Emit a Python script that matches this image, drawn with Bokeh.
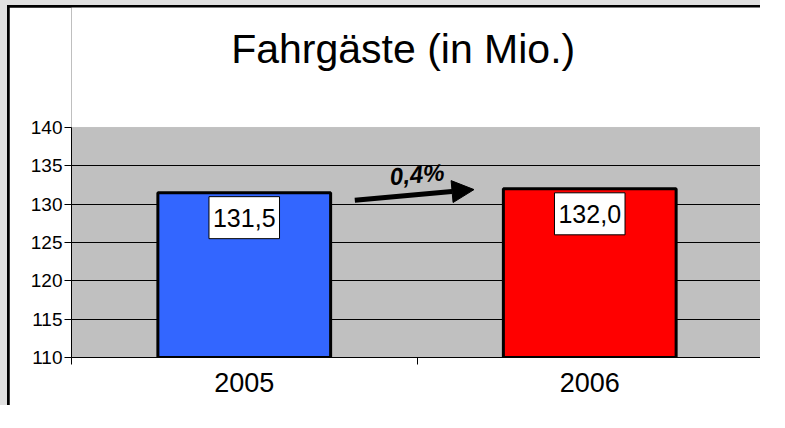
from bokeh.plotting import figure
from bokeh.models import Range1d, FixedTicker, Label, Arrow, NormalHead, BoxAnnotation
from bokeh.embed import file_html
from bokeh.resources import INLINE

# ---- data ----
years = ["2005", "2006"]
passengers = [131.5, 132.0]
bar_colors = ["#3366ff", "#ff0000"]
value_labels = ["131,5", "132,0"]
y_ticks = [110, 115, 120, 125, 130, 135, 140]
title_text = "Fahrgäste (in Mio.)"

FONT = "Liberation Sans"

xs = [i + 0.5 for i in range(len(years))]
change = (passengers[1] / passengers[0] - 1) * 100
change_text = f"{change:.1f}".replace(".", ",") + "%"

y_lo, y_hi = y_ticks[0], y_ticks[-1]
# frame extends above the value axis to leave room for the title
y_top = y_hi + 15.65

p = figure(width=760, height=405, output_backend="svg", toolbar_location=None,
           x_range=Range1d(0, len(years)), y_range=Range1d(y_lo, y_top),
           min_border_left=62, min_border_right=7, min_border_top=0, min_border_bottom=55,
           title=None,
           styles={"border-left": "7px solid #e0e0e0", "border-top": "5px solid #e0e0e0",
                   "padding-left": "2px", "padding-top": "2px",
                   "background-color": "black"})
p.background_fill_color = "white"
p.border_fill_color = "white"
p.outline_line_color = None

# plot area (grey)
p.add_layout(BoxAnnotation(left=0, right=len(years), bottom=y_lo, top=y_hi,
                           fill_color="#c0c0c0", fill_alpha=1.0,
                           line_color="#808080", line_width=1, level="image"))

# grid
p.xgrid.visible = False
p.ygrid.ticker = FixedTicker(ticks=y_ticks[1:-1])
p.ygrid.grid_line_color = "black"
p.ygrid.grid_line_width = 1
p.ygrid.level = "underlay"

# bars
p.vbar(x=xs, top=passengers, bottom=y_lo, width=0.5, fill_color=bar_colors,
       line_color="black", line_width=3)

# x axis
xa = p.xaxis[0]
xa.ticker = FixedTicker(ticks=xs, minor_ticks=list(range(len(years) + 1)))
xa.major_label_overrides = {x: y for x, y in zip(xs, years)}
xa.major_tick_in = 0
xa.major_tick_out = 0
xa.minor_tick_in = 0
xa.minor_tick_out = 7
xa.minor_tick_line_color = "black"
xa.axis_line_color = "black"
xa.major_label_text_font = FONT
xa.major_label_text_font_size = "27px"
xa.major_label_text_color = "black"
xa.major_label_standoff = 8

# y axis
ya = p.yaxis[0]
ya.ticker = FixedTicker(ticks=y_ticks)
ya.bounds = (y_lo, y_hi)
ya.major_tick_in = 0
ya.major_tick_out = 7
ya.minor_tick_line_color = None
ya.major_tick_line_color = "black"
ya.axis_line_color = "black"
ya.major_label_text_font = FONT
ya.major_label_text_font_size = "19px"
ya.major_label_text_color = "black"
ya.major_label_standoff = 2

# value labels
for x, v, t in zip(xs, passengers, value_labels):
    p.add_layout(Label(x=x, y=v, y_offset=-4, text=t, text_align="center",
                       text_baseline="top", text_font=FONT, text_font_size="25px",
                       text_color="black", background_fill_color="white",
                       border_line_color="black", border_line_width=1,
                       padding=(4, 12)))

# change arrow
p.add_layout(Arrow(x_start=0.82, y_start=passengers[0] - 1.0,
                   x_end=1.165, y_end=passengers[1] - 0.1,
                   line_color="black", line_width=5,
                   end=NormalHead(size=22, fill_color="black", line_color="black")))
p.add_layout(Label(x=1.0, y=max(passengers) + 1.9, text=change_text, angle=0.09,
                   text_align="center", text_baseline="middle", text_font=FONT,
                   text_font_style="bold italic", text_font_size="24px",
                   text_color="black"))

# title
p.add_layout(Label(x=0.96, y=y_hi + 10.3, text=title_text, text_align="center",
                   text_baseline="middle", text_font=FONT, text_font_size="41px",
                   text_color="black"))

open("out.html", "w").write(file_html(p, INLINE))
